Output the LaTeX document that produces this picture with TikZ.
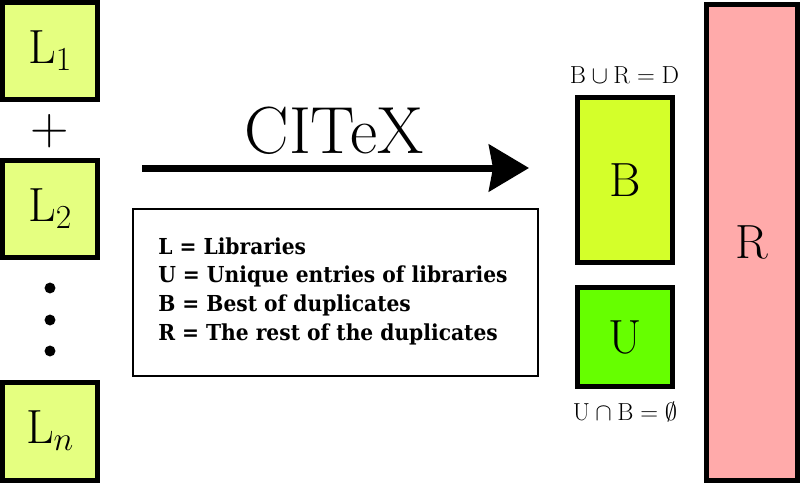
\RequirePackage{fix-cm}
\documentclass[tikz,border=0pt]{standalone}
\usepackage{fontspec}
\newfontfamily\legendfont[FakeStretch=0.92]{DejaVu Serif}
\usetikzlibrary{arrows.meta}
\definecolor{lcol}{RGB}{229,255,128}
\definecolor{bcol}{RGB}{212,255,42}
\definecolor{ucol}{RGB}{102,255,0}
\definecolor{rcol}{RGB}{255,170,170}
\tikzset{
  setbox/.style={draw=black, line width=3.75pt, inner sep=0pt, outer sep=0pt,
    font=\fontsize{36}{40}\selectfont},
  settext/.style={font=\fontsize{18.5}{21}\selectfont, inner sep=0pt},
}
\begin{document}
\begin{tikzpicture}[x=0.75pt,y=-0.75pt]
\useasboundingbox (0,0) rectangle (800,485);
% library boxes
\node[setbox, fill=lcol, minimum width=71.25pt, minimum height=72.75pt] (L1) at (50,51) {$\mathrm{L}_1$};
\node[setbox, fill=lcol, minimum width=71.25pt, minimum height=72.75pt] (L2) at (50,209) {$\mathrm{L}_2$};
\node[setbox, fill=lcol, minimum width=71.25pt, minimum height=73.5pt] (Ln) at (50,431) {$\mathrm{L}_n$};
\node[font=\fontsize{40}{44}\selectfont, inner sep=0pt] (plus) at (50,131) {+};
\foreach \yy/\nm in {288/d1,320/d2,351/d3}
  \fill (50,\yy) circle[radius=4.1pt];
% arrow
\coordinate (as) at (142,168);
\coordinate (ae) at (529,168);
\draw[line width=5.25pt, -{Stealth[length=30pt,width=35pt,inset=3pt]}] (as) -- (ae);
\node[font=\fontsize{50}{56}\selectfont, inner sep=0pt] (citex) at (334,131) {CITeX};
% legend
\node[draw, line width=1.1pt, minimum width=303.75pt, minimum height=125.25pt, inner sep=0pt] (legend) at (335.5,292.5) {};
\node[anchor=base west, align=left, inner sep=0pt,
  font=\legendfont\bfseries\fontsize{16.5}{21.4}\selectfont] (legtext) at (158,340)
  {L = Libraries\\U = Unique entries of libraries\\B = Best of duplicates\\R = The rest of the duplicates};
% result boxes
\node[setbox, fill=bcol, minimum width=71.25pt, minimum height=123.75pt] (B) at (625,180) {B};
\node[setbox, fill=ucol, minimum width=71.25pt, minimum height=74.25pt] (U) at (625,337) {U};
\node[setbox, fill=rcol, minimum width=68.25pt, minimum height=357pt] (R) at (752,242.5) {R};
\node[settext] (bu) at (624.5,75) {$\mathrm{B}\cup\mathrm{R}=\mathrm{D}$};
\node[settext] (ub) at (625,412) {$\mathrm{U}\cap\mathrm{B}=\emptyset$};
\end{tikzpicture}
\end{document}
